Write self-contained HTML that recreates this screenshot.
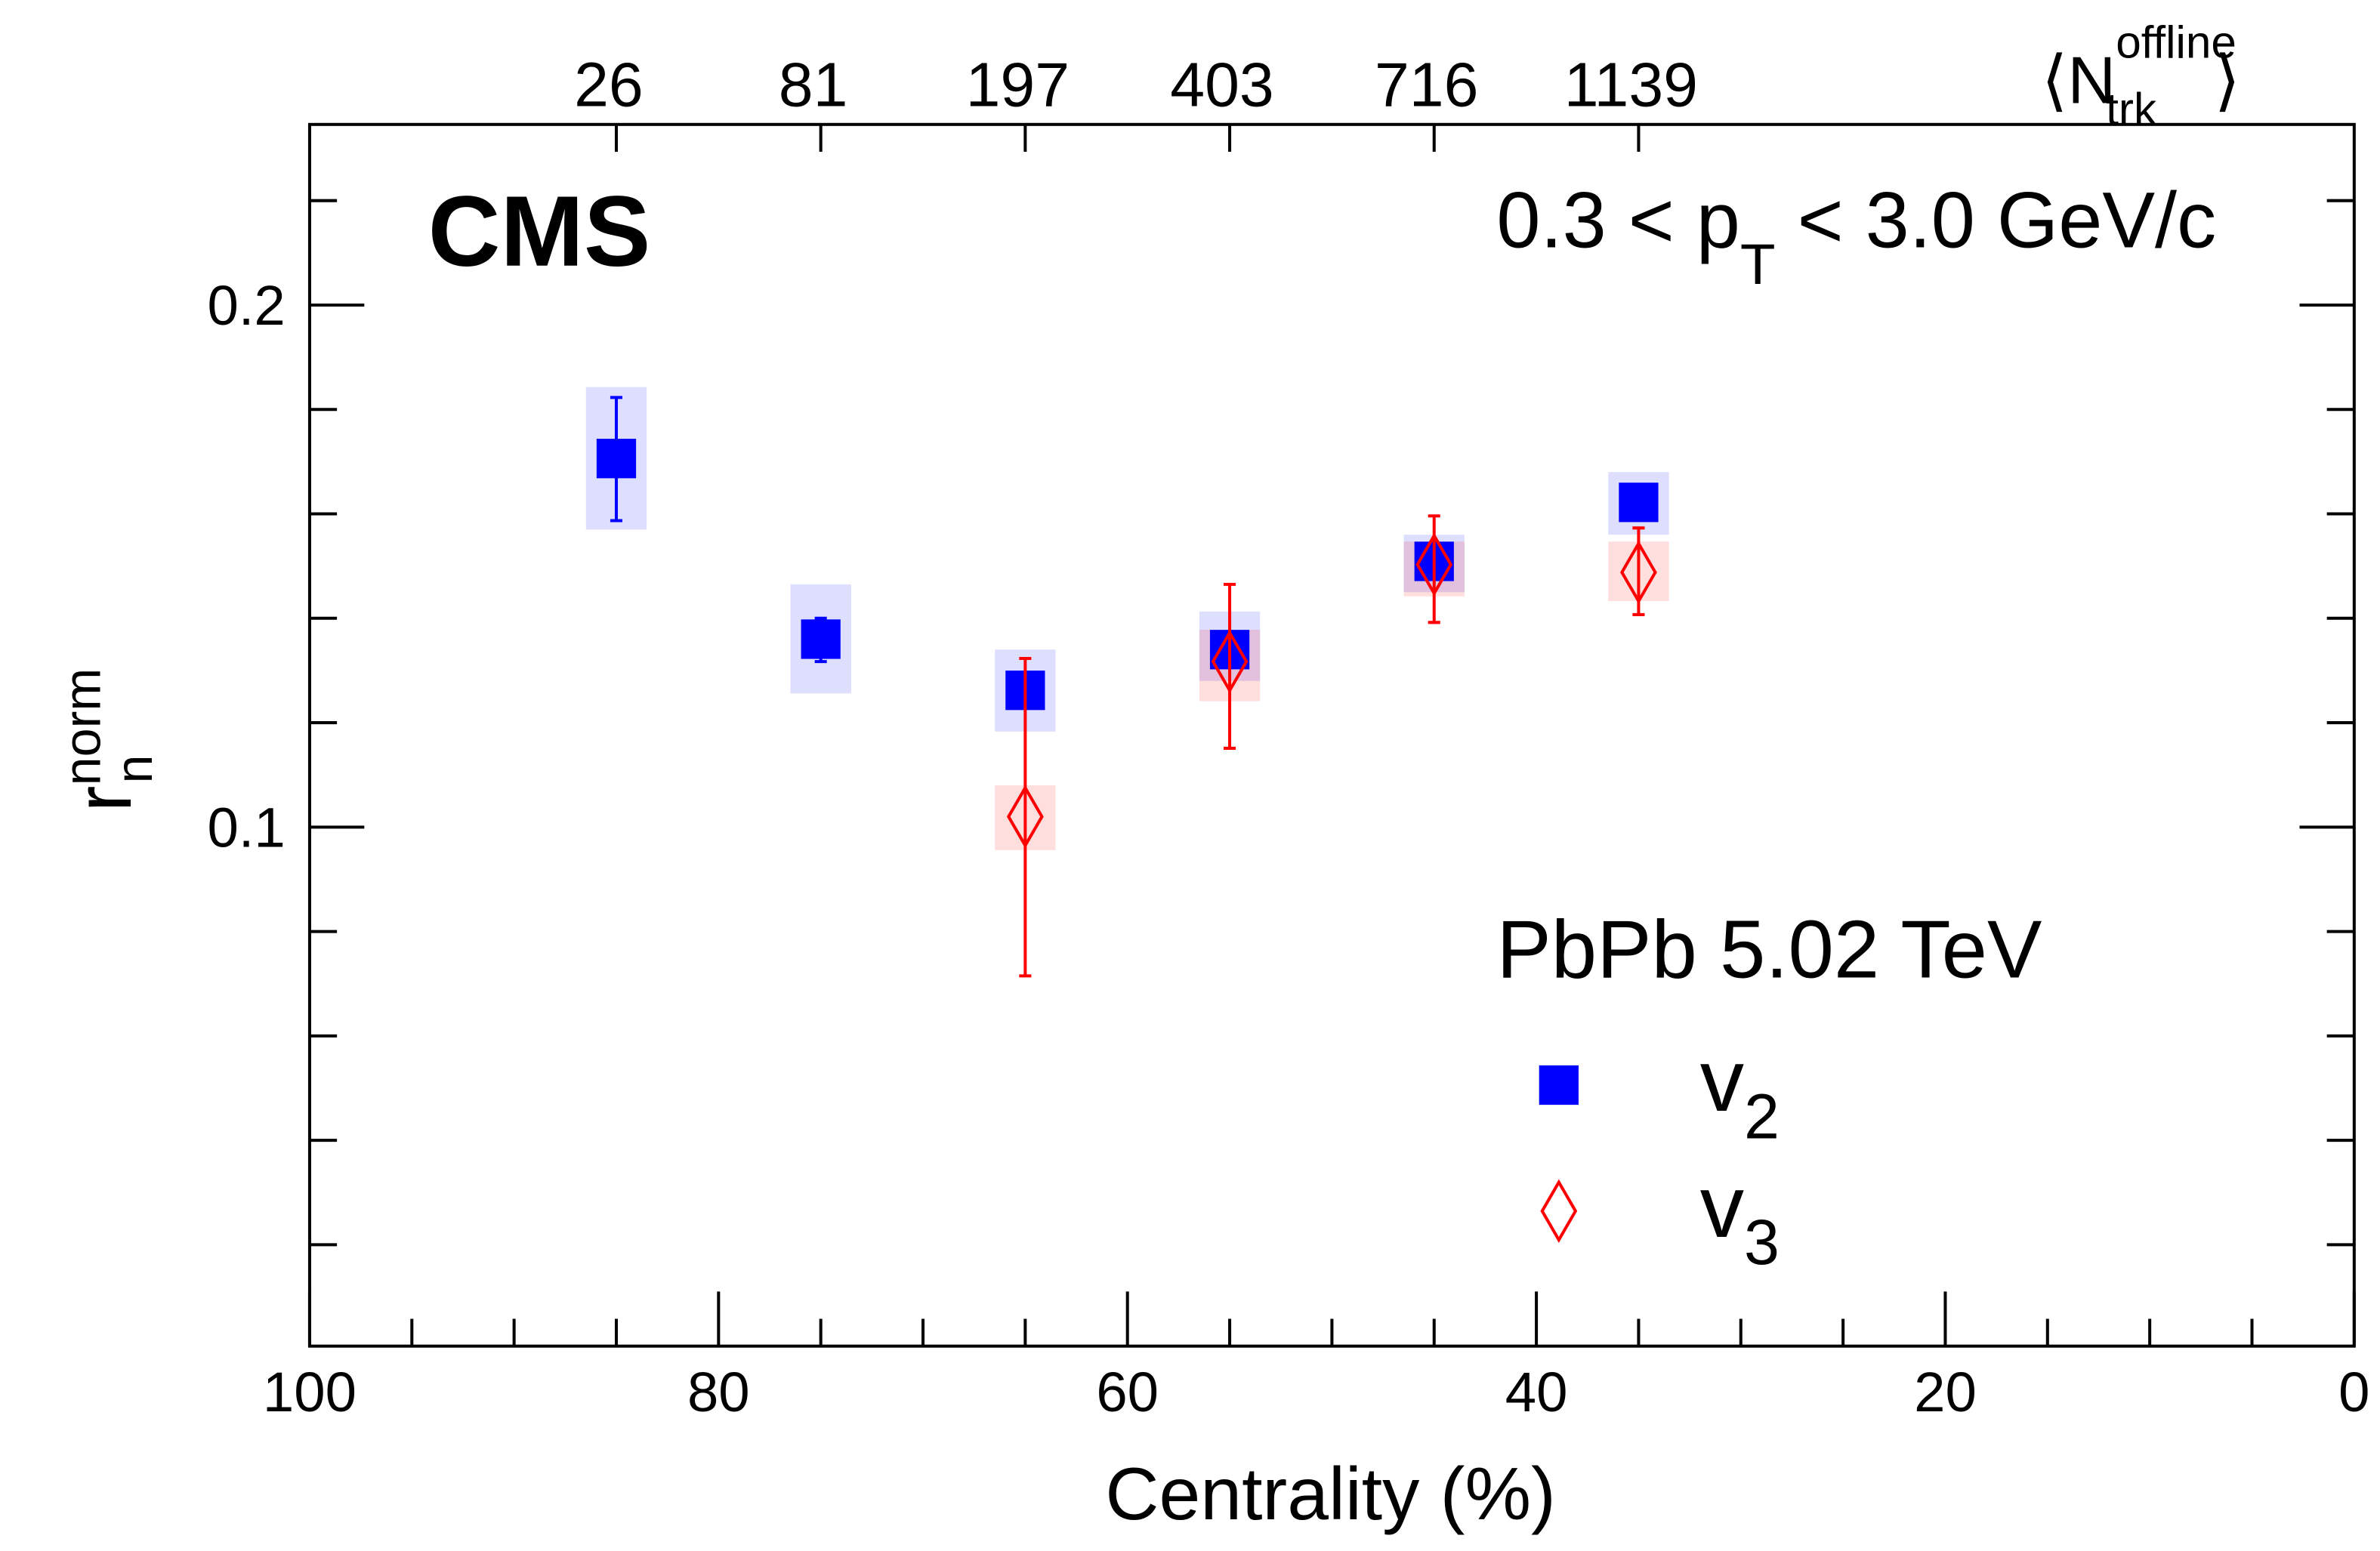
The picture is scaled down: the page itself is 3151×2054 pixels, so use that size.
<!DOCTYPE html>
<html><head><meta charset="utf-8"><style>
html,body{margin:0;padding:0;background:#fff}
svg{display:block}
text{font-family:"Liberation Sans",sans-serif;fill:#000}
</style></head><body>
<svg id="chart" width="3151" height="2054" viewBox="0 0 1568 1022" preserveAspectRatio="none" xmlns="http://www.w3.org/2000/svg">
<g id="axes"></g>
<g id="marks"></g>
<text x="282" y="175" font-size="66" font-weight="bold">CMS</text>
<text x="986" y="163" font-size="52">0.3 &lt; p<tspan dy="24" font-size="38">T</tspan><tspan dy="-24"> &lt; 3.0 GeV/c</tspan></text>
<text x="986" y="644" font-size="54">PbPb 5.02 TeV</text>
<rect x="1014" y="702" width="26" height="26" fill="#0000ff"/>
<text x="1120" y="732" font-size="58">v<tspan dy="18" font-size="42">2</tspan></text>
<path d="M1027 779 L1038 798 L1027 817 L1016 798 Z" fill="none" stroke="#ff0000" stroke-width="2"/>
<text x="1120" y="815" font-size="58">v<tspan dy="18" font-size="42">3</tspan></text>
<text x="1025" y="1001" font-size="49" text-anchor="end">Centrality (%)</text>
<text transform="translate(86,535) rotate(-90)" font-size="52">r<tspan dy="-20" font-size="34">norm</tspan><tspan dx="-76" dy="34" font-size="34">n</tspan></text>
<text x="1345" y="68" font-size="44">⟨N<tspan dy="-30" font-size="30">offline</tspan><tspan dx="-86" dy="44" font-size="30">trk</tspan><tspan dx="38" dy="-14" font-size="44">⟩</tspan></text>
</svg>
<script>
const cent = [85, 75, 65, 55, 45, 35];
const nTrk = ["26", "81", "197", "403", "716", "1139"];
const v2Val = [0.1706, 0.136, 0.1262, 0.134, 0.1509, 0.1622];
const v2ErrHi = [0.1823, 0.140, 0.1275, 0.1355, 0.152, 0.1632];
const v2ErrLo = [0.1587, 0.1317, 0.125, 0.1325, 0.1498, 0.1612];
const v2SysHi = [0.1843, 0.1465, 0.134, 0.1413, 0.156, 0.168];
const v2SysLo = [0.157, 0.1256, 0.1183, 0.128, 0.145, 0.156];
const v3Cent = [65, 55, 45, 35];
const v3Val = [0.102, 0.1317, 0.1503, 0.1488];
const v3ErrHi = [0.1323, 0.1465, 0.1596, 0.1573];
const v3ErrLo = [0.0715, 0.1151, 0.1392, 0.1407];
const v3SysHi = [0.108, 0.1378, 0.1547, 0.1547];
const v3SysLo = [0.0956, 0.1241, 0.1442, 0.1433];
const xTickLabels = ["100", "80", "60", "40", "20", "0"];
const yTickLabels = ["0.1", "0.2"];

const X0=204, X1=1551, Y0=82, Y1=887;
const xs = c => X0 + (100 - c) / 100 * (X1 - X0);
const ys = v => 545 - (v - 0.1) * 3440;
const NS="http://www.w3.org/2000/svg";
const axes=document.getElementById('axes'), marks=document.getElementById('marks');
function mk(parent, tag, attrs){const e=document.createElementNS(NS,tag);for(const k in attrs)e.setAttribute(k,attrs[k]);parent.appendChild(e);return e;}

const frame=mk(axes,'rect',{x:X0,y:Y0,width:X1-X0,height:Y1-Y0,fill:'none',stroke:'#000','stroke-width':2});


for(let c=0;c<=100;c+=5){
  const len = c%20===0?36:18, x=xs(c);
  const t=mk(axes,'line',{x1:x,x2:x,y1:Y1,y2:Y1-len,stroke:'#000','stroke-width':2});
  
  
}
xTickLabels.forEach(s=>{
  const t=mk(axes,'text',{x:xs(+s),y:930,'font-size':37,'text-anchor':'middle'});t.textContent=s;
  
  
});
for(let i=0;i<=11;i++){
  const v=i*0.02, y=ys(v); if(y>Y1-1||y<Y0) continue;
  const major=Math.abs(v-0.1)<1e-6||Math.abs(v-0.2)<1e-6, len=major?36:18;
  const a=mk(axes,'line',{x1:X0,x2:X0+len,y1:y,y2:y,stroke:'#000','stroke-width':2});
  
  
  const b=mk(axes,'line',{x1:X1,x2:X1-len,y1:y,y2:y,stroke:'#000','stroke-width':2});
  
  
}
yTickLabels.forEach(s=>{
  const t=mk(axes,'text',{x:188,y:ys(+s)+13,'font-size':37,'text-anchor':'end'});t.textContent=s;
  
  
});
cent.forEach((c,i)=>{
  const x=xs(c);
  const t=mk(axes,'line',{x1:x,x2:x,y1:Y0,y2:Y0+18,stroke:'#000','stroke-width':2});
  
  
  const l=mk(axes,'text',{x:x-5,y:70,'font-size':41,'text-anchor':'middle'});l.textContent=nTrk[i];
  
  
});
function errBar(x,hi,lo,color){
  const e=mk(marks,'path',{d:`M${x} ${ys(hi)}V${ys(lo)}M${x-4} ${ys(hi)}H${x+4}M${x-4} ${ys(lo)}H${x+4}`,stroke:color,'stroke-width':2,fill:'none'});
  
  
}
cent.forEach((c,i)=>{
  const x=xs(c);
  const b=mk(marks,'rect',{x:x-20,y:ys(v2SysHi[i]),width:40,height:ys(v2SysLo[i])-ys(v2SysHi[i]),fill:'rgba(0,0,255,0.13)'});
  
  
});
v3Cent.forEach((c,i)=>{
  const x=xs(c);
  const b=mk(marks,'rect',{x:x-20,y:ys(v3SysHi[i]),width:40,height:ys(v3SysLo[i])-ys(v3SysHi[i]),fill:'rgba(255,0,0,0.13)'});
  
  
});
cent.forEach((c,i)=>{
  const x=xs(c);
  errBar(x,v2ErrHi[i],v2ErrLo[i],'#0000ff');
  const m=mk(marks,'rect',{x:x-13,y:ys(v2Val[i])-13,width:26,height:26,fill:'#0000ff'});
  
  
});
v3Cent.forEach((c,i)=>{
  const x=xs(c), y=ys(v3Val[i]);
  errBar(x,v3ErrHi[i],v3ErrLo[i],'#ff0000');
  const m=mk(marks,'path',{d:`M${x} ${y-19}L${x+11} ${y}L${x} ${y+19}L${x-11} ${y}Z`,fill:'none',stroke:'#ff0000','stroke-width':2});
  
  
});
</script>
</body></html>
